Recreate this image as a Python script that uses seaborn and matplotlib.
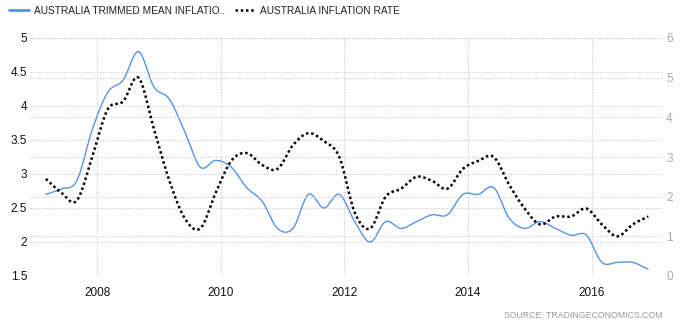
import numpy as np
import pandas as pd
import seaborn as sns
import matplotlib.pyplot as plt
from matplotlib.lines import Line2D

# ---------------- data ----------------
quarters = [f"{y}Q{q}" for y in range(2007, 2017) for q in range(1, 5)]
trimmed_mean = [2.70, 2.78, 2.90, 3.65, 4.20, 4.38, 4.80, 4.28,
                4.10, 3.62, 3.10, 3.20, 3.10, 2.80, 2.60, 2.20,
                2.20, 2.70, 2.50, 2.70, 2.30, 2.00, 2.30, 2.20,
                2.30, 2.40, 2.40, 2.70, 2.70, 2.80, 2.35, 2.20,
                2.30, 2.20, 2.10, 2.10, 1.70, 1.70, 1.70, 1.60]
inflation_rate = [2.45, 2.1, 1.9, 3.0, 4.2, 4.4, 5.0, 3.7,
                  2.4, 1.45, 1.2, 2.1, 2.9, 3.1, 2.8, 2.7,
                  3.3, 3.6, 3.4, 3.0, 1.6, 1.2, 2.0, 2.2,
                  2.5, 2.4, 2.2, 2.7, 2.9, 3.0, 2.3, 1.7,
                  1.3, 1.5, 1.5, 1.7, 1.3, 1.0, 1.3, 1.5]
year_ticks = [2008, 2010, 2012, 2014, 2016]
left_ticks = [1.5, 2, 2.5, 3, 3.5, 4, 4.5, 5]
right_ticks = [0, 1, 2, 3, 4, 5, 6]
series_names = ["AUSTRALIA TRIMMED MEAN INFLATIO..", "AUSTRALIA INFLATION RATE"]


def qtime(q):
    y, n = int(q[:4]), int(q[-1])
    return y + (3 * n - 1) / 12.0


def smooth(x, y, n=12):
    """Catmull-Rom rendering of the line (visual spline like the source chart)."""
    x = np.asarray(x, float)
    y = np.asarray(y, float)
    px = np.concatenate([[2 * x[0] - x[1]], x, [2 * x[-1] - x[-2]]])
    py = np.concatenate([[2 * y[0] - y[1]], y, [2 * y[-1] - y[-2]]])
    xs, ys = [], []
    for i in range(1, len(px) - 2):
        t = np.linspace(0, 1, n, endpoint=False)
        for arr, out in ((px, xs), (py, ys)):
            p0, p1, p2, p3 = arr[i - 1], arr[i], arr[i + 1], arr[i + 2]
            out.extend(0.5 * ((2 * p1) + (-p0 + p2) * t +
                              (2 * p0 - 5 * p1 + 4 * p2 - p3) * t ** 2 +
                              (-p0 + 3 * p1 - 3 * p2 + p3) * t ** 3))
    xs.append(x[-1])
    ys.append(y[-1])
    return np.array(xs), np.array(ys)


t = [qtime(q) for q in quarters]
df = pd.DataFrame({"t": t, "trimmed": trimmed_mean, "cpi": inflation_rate})

# ---------------- style ----------------
sns.set_theme(style="white")
plt.rcParams['font.family'] = ['Liberation Sans', 'DejaVu Sans']

BLUE = "#5594ea"
GRID = "#c8c8c8"

fig = plt.figure(figsize=(6.83, 3.24), dpi=100)
ax = fig.add_axes([30 / 683, 1 - 276 / 324, 632 / 683, 238 / 324])
ax2 = ax.twinx()

sx, sy = smooth(df["t"], df["trimmed"])
sns.lineplot(x=sx, y=sy, ax=ax, sort=False, estimator=None,
             color=BLUE, linewidth=1.0)
cx, cy = smooth(df["t"], df["cpi"])
sns.lineplot(x=cx, y=cy, ax=ax2, sort=False, estimator=None,
             color="black", linewidth=1.8, linestyle=(0, (1, 1.1)))
ax2.lines[-1].set_dash_capstyle("butt")

ax.set_xlim(2006.91, 2017.14)
ax.set_ylim(1.5, 5)
ax2.set_ylim(0, 6)

ax.set_xticks(year_ticks)
ax.set_xticklabels([str(y) for y in year_ticks])
ax.set_yticks(left_ticks)
ax.set_yticklabels([f"{v:g}" for v in left_ticks])
ax2.set_yticks(right_ticks)
ax2.set_yticklabels([str(v) for v in right_ticks])

for a in (ax, ax2):
    for s in a.spines.values():
        s.set_visible(False)
    a.set_xlabel("")
    a.set_ylabel("")

ax.grid(True, axis="both", color=GRID, linestyle=(0, (1, 1.5)), linewidth=0.8)
ax2.grid(True, axis="y", color=GRID, linestyle=(0, (1, 1.5)), linewidth=0.8)
ax.set_axisbelow(True)
ax2.patch.set_visible(False)

ax.tick_params(axis="x", length=0, pad=8, labelsize=8.5, labelcolor="#111111")
ax.tick_params(axis="y", length=0, pad=2, labelsize=8.5, labelcolor="#111111")
ax2.tick_params(axis="y", length=0, pad=3, labelsize=8.5, labelcolor="#aaaaaa")

# legend
handles = [Line2D([], [], color=BLUE, linewidth=2.0),
           Line2D([], [], color="black", linewidth=1.8, linestyle=(0, (1, 1.1)))]
fig.legend(handles, series_names, loc="upper left",
           bbox_to_anchor=(0.0, 1.01), ncol=2, frameon=False,
           fontsize=7.3, handlelength=2.0, handletextpad=0.45,
           columnspacing=1.0, labelcolor="#222222")

fig.text(663 / 683, 1 - 316 / 324, "SOURCE: TRADINGECONOMICS.COM",
         ha="right", va="center", fontsize=6.3, color="#999999",
         family=["Liberation Sans Narrow", "Liberation Sans", "DejaVu Sans"])

fig.savefig("out.png", dpi=100)
